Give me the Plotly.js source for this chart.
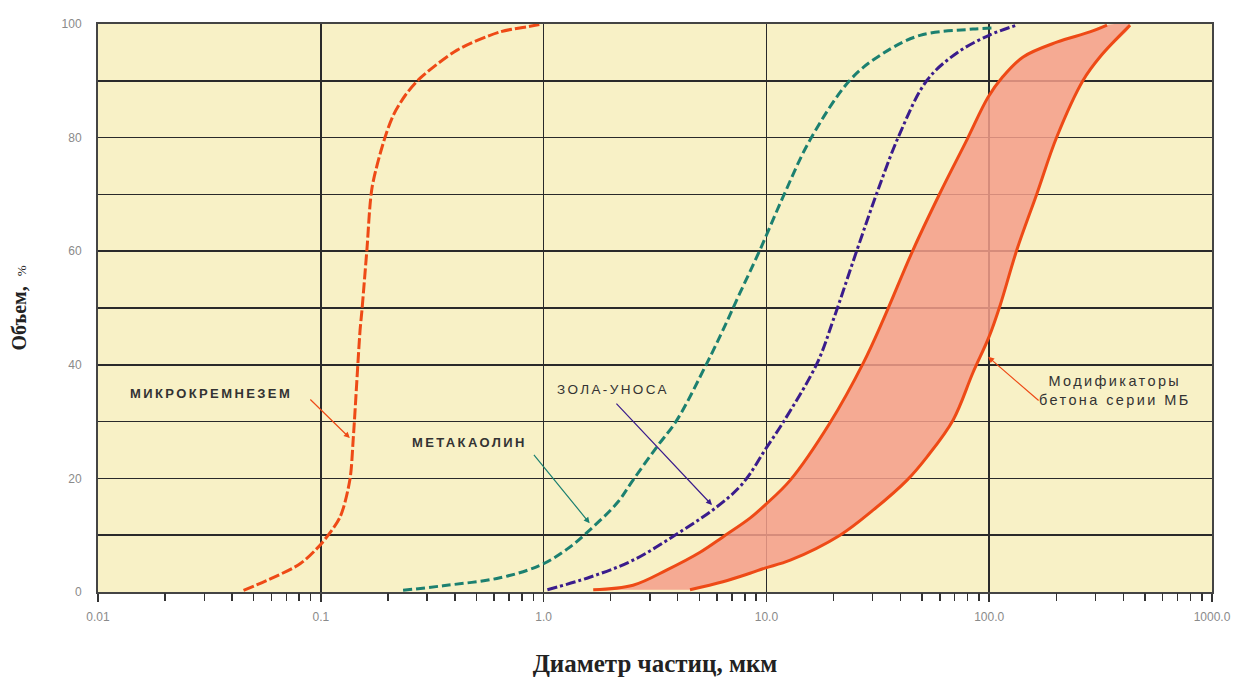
<!DOCTYPE html>
<html>
<head>
<meta charset="utf-8">
<script src="https://cdn.plot.ly/plotly-3.0.1.min.js"></script>
<style>
  html, body { margin: 0; padding: 0; background: #fff; }
  #chart { width: 1240px; height: 677px; }
  .annotation-text { letter-spacing: 2.4px; }
</style>
</head>
<body>
<div id="chart"></div>
<script>
// ---- Data ----
const silicaX = [0.045, 0.057, 0.081, 0.101, 0.122, 0.135, 0.140, 0.150, 0.153, 0.161, 0.170, 0.194, 0.212, 0.240, 0.280, 0.409, 0.637, 0.869, 0.98];
const silicaY = [0.3, 2.0, 5.0, 8.6, 13.2, 19.7, 27.3, 46.0, 49.6, 60.2, 71.3, 80.0, 84.0, 87.5, 90.5, 95.4, 98.6, 99.6, 100];

const metakaolinX = [0.234, 0.354, 0.637, 0.964, 1.27, 1.61, 2.14, 2.52, 3.23, 3.97, 5.41, 6.38, 7.60, 9.35, 11.86, 15.7, 23.7, 32.4, 48.9, 84.5, 104];
const metakaolinY = [0.3, 1.1, 2.5, 4.7, 7.5, 10.9, 15.7, 19.7, 25.6, 30.3, 40.3, 46.1, 52.6, 60.2, 69.5, 79.6, 90.1, 94.5, 98.0, 99.1, 99.3];

const flyashX = [1.04, 1.61, 2.52, 4.22, 6.0, 7.5, 8.44, 9.85, 11.86, 16.9, 20.0, 25.5, 31.3, 39.8, 52.6, 71.6, 101, 133];
const flyashY = [0.4, 2.6, 5.6, 10.9, 15.0, 18.3, 20.8, 25.0, 29.8, 40.3, 48.0, 60.2, 70.2, 80.8, 90.1, 94.9, 98.1, 99.8];

const mbFineX = [1.67, 2.52, 3.58, 5.04, 6.38, 8.44, 9.85, 12.8, 19.3, 27.2, 33.5, 45.5, 60.1, 79.4, 98.8, 115, 142, 201, 283, 338];
const mbFineY = [0.4, 1.2, 3.9, 7.0, 9.7, 13.0, 15.3, 19.7, 29.8, 40.3, 48.0, 60.2, 70.2, 79.6, 87.1, 90.7, 94.2, 96.8, 98.6, 99.8];

const mbCoarseX = [4.54, 6.38, 8.44, 9.85, 12.8, 21.4, 30.1, 42.8, 52.6, 68.9, 84.5, 100, 112, 133, 164, 201, 264, 314, 429];
const mbCoarseY = [0.4, 1.8, 3.3, 4.2, 5.6, 10.0, 14.4, 19.7, 23.8, 30.3, 38.6, 45.0, 50.5, 60.2, 70.2, 80.1, 90.1, 94.2, 99.8];

// ---- Axis ticks ----
const xTickVals = [0.01, 0.1, 1, 10, 100, 1000];
const xTickText = ['0.01', '0.1', '1.0', '10.0', '100.0', '1000.0'];
const xMinorVals = [0.02,0.03,0.04,0.05,0.06,0.07,0.08,0.09,
                    0.2,0.3,0.4,0.5,0.6,0.7,0.8,0.9,
                    2,3,4,5,6,7,8,9,
                    20,30,40,50,60,70,80,90,
                    200,300,400,500,600,700,800,900];
const yTickVals = [0, 10, 20, 30, 40, 50, 60, 70, 80, 90, 100];
const yTickText = ['0', '', '20', '', '40', '', '60', '', '80', '', '100'];

// ---- Labels ----
const labelSilica = 'МИКРОКРЕМНЕЗЕМ';
const labelMetakaolin = 'МЕТАКАОЛИН';
const labelFlyash = 'ЗОЛА-УНОСА';
const labelMB = 'Модификаторы<br>бетона серии МБ';

const cOrange = '#EE4A16';
const cTeal = '#1C8070';
const cPurple = '#3A1C8C';

const bandX = mbFineX.concat(mbCoarseX.slice().reverse());
const bandY = mbFineY.concat(mbCoarseY.slice().reverse());

const sm = 1.0;
const traces = [
  { x: bandX, y: bandY, type: 'scatter', mode: 'lines', fill: 'toself',
    fillcolor: 'rgba(244,158,138,0.85)', line: { width: 0, shape: 'spline', smoothing: sm },
    hoverinfo: 'skip', showlegend: false },
  { x: mbFineX, y: mbFineY, type: 'scatter', mode: 'lines', name: 'МБ (мелкие)',
    line: { color: cOrange, width: 3, shape: 'spline', smoothing: sm }, showlegend: false },
  { x: mbCoarseX, y: mbCoarseY, type: 'scatter', mode: 'lines', name: 'МБ (крупные)',
    line: { color: cOrange, width: 3, shape: 'spline', smoothing: sm }, showlegend: false },
  { x: silicaX, y: silicaY, type: 'scatter', mode: 'lines', name: labelSilica,
    line: { color: cOrange, width: 3, dash: '11px,3px', shape: 'spline', smoothing: 0.8 }, showlegend: false },
  { x: metakaolinX, y: metakaolinY, type: 'scatter', mode: 'lines', name: labelMetakaolin,
    line: { color: cTeal, width: 3, dash: '9px,4px', shape: 'spline', smoothing: sm }, showlegend: false },
  { x: flyashX, y: flyashY, type: 'scatter', mode: 'lines', name: labelFlyash,
    line: { color: cPurple, width: 3, dash: '10px,3px,3px,3px', shape: 'spline', smoothing: sm }, showlegend: false },
  { x: [1], y: [0], xaxis: 'x2', type: 'scatter', mode: 'markers',
    marker: { opacity: 0 }, hoverinfo: 'skip', showlegend: false }
];

const labelFont = { family: 'Liberation Sans, Arial, sans-serif', size: 13, color: '#333', weight: 'bold' };

const layout = {
  width: 1240, height: 677,
  margin: { l: 98, r: 28, t: 24, b: 85 },
  paper_bgcolor: '#ffffff',
  plot_bgcolor: '#F8F1C6',
  showlegend: false,
  xaxis: {
    type: 'log', range: [-2, 3],
    tickvals: xTickVals, ticktext: xTickText,
    showgrid: true, gridcolor: '#2a2a2a', gridwidth: 1.6,
    ticks: 'outside', ticklen: 8, tickwidth: 1.5, tickcolor: '#333',
    ticklabelstandoff: 5,
    showline: true, mirror: true, linecolor: '#444', linewidth: 2,
    zeroline: false,
    tickfont: { family: 'Liberation Sans, Arial, sans-serif', size: 12, color: '#8a8a8a' },
    title: { text: '<b>Диаметр частиц, мкм</b>', standoff: 34,
             font: { family: 'Liberation Serif, Times New Roman, serif', size: 25, color: '#222' } }
  },
  xaxis2: {
    type: 'log', range: [-2, 3], overlaying: 'x', anchor: 'y', side: 'bottom',
    tickvals: xMinorVals, ticks: 'outside', ticklen: 8, tickwidth: 1.5, tickcolor: '#333',
    showticklabels: false, showgrid: false, showline: false, zeroline: false
  },
  yaxis: {
    range: [0, 100],
    tickvals: yTickVals, ticktext: yTickText,
    showgrid: true, gridcolor: '#2a2a2a', gridwidth: 1.6,
    ticks: '', ticklabelstandoff: 12,
    showline: true, mirror: true, linecolor: '#444', linewidth: 2,
    zeroline: false,
    tickfont: { family: 'Liberation Sans, Arial, sans-serif', size: 12, color: '#8a8a8a' },
    title: { text: "<b>Объем,</b>  <span style='font-size:13px'>%</span>", standoff: 30,
             font: { family: 'Liberation Serif, Times New Roman, serif', size: 20, color: '#222' } }
  },
  annotations: [
    { x: Math.log10(0.0137), y: 35.0, xref: 'x', yref: 'y', text: labelSilica, showarrow: false,
      xanchor: 'left', yanchor: 'middle', font: labelFont },
    { x: Math.log10(0.251), y: 26.4, xref: 'x', yref: 'y', text: labelMetakaolin, showarrow: false,
      xanchor: 'left', yanchor: 'middle', font: labelFont },
    { x: Math.log10(1.12), y: 35.6, xref: 'x', yref: 'y', text: labelFlyash, showarrow: false,
      xanchor: 'left', yanchor: 'middle',
      font: { family: 'Liberation Sans, Arial, sans-serif', size: 13.5, color: '#333' } },
    { x: Math.log10(367), y: 35.4, xref: 'x', yref: 'y', text: labelMB, showarrow: false,
      xanchor: 'center', yanchor: 'middle', align: 'center',
      font: { family: 'Liberation Sans, Arial, sans-serif', size: 14.5, color: '#333' } },
    { x: Math.log10(0.135), y: 27.1, xref: 'x', yref: 'y', text: '', showarrow: true,
      ax: -41, ay: -40, arrowhead: 2, arrowsize: 1, arrowwidth: 1.2, arrowcolor: cOrange },
    { x: Math.log10(1.61), y: 12.1, xref: 'x', yref: 'y', text: '', showarrow: true,
      ax: -57, ay: -70, arrowhead: 2, arrowsize: 1, arrowwidth: 1.2, arrowcolor: cTeal },
    { x: Math.log10(5.70), y: 15.3, xref: 'x', yref: 'y', text: '', showarrow: true,
      ax: -97, ay: -103, arrowhead: 2, arrowsize: 1, arrowwidth: 1.2, arrowcolor: cPurple },
    { x: Math.log10(98.9), y: 41.4, xref: 'x', yref: 'y', text: '', showarrow: true,
      ax: 52, ay: 45, arrowhead: 2, arrowsize: 1, arrowwidth: 1.2, arrowcolor: cOrange }
  ]
};

Plotly.newPlot('chart', traces, layout, { displayModeBar: false, staticPlot: true });
</script>
</body>
</html>
